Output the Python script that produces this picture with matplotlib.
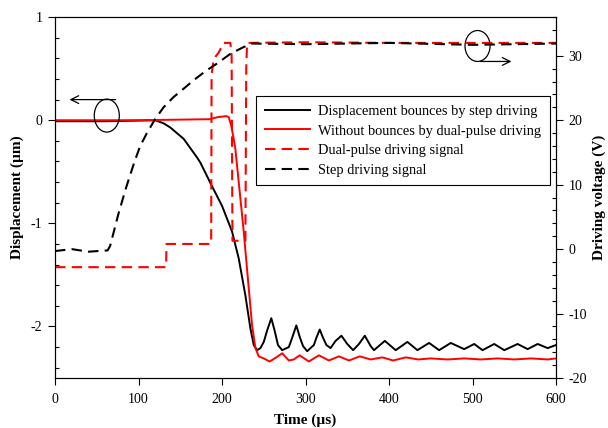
import numpy as np
import matplotlib
matplotlib.use('Agg')
import matplotlib.pyplot as plt
from matplotlib.patches import Ellipse
from matplotlib.ticker import MultipleLocator

plt.rcParams['font.family'] = ['Liberation Serif', 'DejaVu Serif']
plt.rcParams['axes.unicode_minus'] = False
plt.rcParams['font.size'] = 10

# displacement by step driving (left axis, um)
step_disp_t = [0, 60, 120, 130, 138, 154, 162, 170, 174, 188, 200, 212, 220, 228, 234, 238, 242,
               246, 250, 254, 259, 263, 267, 272, 280, 284, 289, 293, 297, 302, 310, 313, 317,
               321, 325, 330, 336, 343, 350, 357, 364, 371, 378, 382, 395, 408, 422, 434, 448,
               460, 474, 490, 502, 512, 526, 538, 554, 566, 578, 590, 600]
step_disp = [-0.01, -0.01, 0.0, -0.03, -0.07, -0.18, -0.27, -0.36, -0.41, -0.64, -0.83, -1.08,
             -1.34, -1.70, -2.02, -2.18, -2.23, -2.21, -2.15, -2.04, -1.92, -2.04, -2.18, -2.23,
             -2.20, -2.11, -1.99, -2.10, -2.19, -2.24, -2.18, -2.11, -2.03, -2.11, -2.18, -2.21,
             -2.14, -2.09, -2.17, -2.23, -2.17, -2.09, -2.19, -2.23, -2.14, -2.23, -2.15, -2.23,
             -2.16, -2.23, -2.16, -2.22, -2.17, -2.23, -2.17, -2.23, -2.17, -2.22, -2.17, -2.21,
             -2.18]

# displacement by dual-pulse driving (left axis, um)
dual_disp_t = [0, 100, 185, 195, 205, 208, 211, 214, 216, 220, 226, 232, 236, 240, 244, 250,
               257, 265, 272, 280, 286, 293, 304, 316, 328, 340, 352, 365, 378, 392, 405, 420,
               435, 450, 470, 490, 510, 530, 550, 570, 590, 600]
dual_disp = [0.0, 0.0, 0.01, 0.03, 0.04, 0.03, -0.05, -0.18, -0.28, -0.6, -1.08, -1.63, -1.99,
             -2.21, -2.29, -2.31, -2.34, -2.30, -2.26, -2.33, -2.32, -2.28, -2.34, -2.28, -2.33,
             -2.29, -2.33, -2.29, -2.32, -2.30, -2.33, -2.30, -2.32, -2.31, -2.32, -2.31, -2.32,
             -2.31, -2.32, -2.31, -2.32, -2.31]

# dual-pulse driving signal (right axis, V)
dual_sig_t = [0, 133, 133.5, 187, 187.5, 190, 196, 202, 210, 211.5, 212.5, 228, 229, 230, 300,
              400, 500, 600]
dual_sig = [-2.8, -2.8, 0.8, 0.8, 27, 29.5, 30.5, 32, 32, 30, 1.3, 1.3, 28, 32, 32.1, 32, 32, 32]

# step driving signal (right axis, V)
step_sig_t = [0, 20, 40, 63, 66, 70, 76, 85, 95, 102, 110, 120, 130, 142, 155, 166, 180, 194,
              210, 225, 236, 300, 400, 500, 600]
step_sig = [-0.3, 0, -0.4, -0.2, 0.5, 2.5, 5.5, 9.5, 13.5, 16, 18, 20.2, 22, 23.6, 25, 26.2,
            27.6, 28.8, 30.3, 31.3, 31.9, 31.8, 32, 31.7, 31.9]

fig = plt.figure(figsize=(6.08, 4.28), dpi=100)
ax = fig.add_axes([0.0905, 0.1168, 0.824, 0.8432])
ax2 = ax.twinx()

l1, = ax.plot(step_disp_t, step_disp, color='black', lw=1.4,
              label='Displacement bounces by step driving')
l2, = ax.plot(dual_disp_t, dual_disp, color='red', lw=1.4,
              label='Without bounces by dual-pulse driving')
dash = (0, (5, 3))
l3, = ax2.plot(dual_sig_t, dual_sig, color='red', lw=1.5, ls=dash,
               label='Dual-pulse driving signal')
l4, = ax2.plot(step_sig_t, step_sig, color='black', lw=1.5, ls=dash,
               label='Step driving signal')

ax.set_xlim(0, 600)
ax.set_ylim(-2.5, 1)
ax2.set_ylim(-20, 36)
ax.set_xticks([0, 100, 200, 300, 400, 500, 600])
ax.set_yticks([-2, -1, 0, 1])
ax.yaxis.set_minor_locator(MultipleLocator(0.2))
ax2.set_yticks([-20, -10, 0, 10, 20, 30])
ax2.yaxis.set_minor_locator(MultipleLocator(2))

for a in (ax, ax2):
    a.tick_params(which='major', direction='out', length=5, width=0.8, labelsize=10, pad=4)
    a.tick_params(which='minor', direction='in', length=3, width=0.8)
    for s in a.spines.values():
        s.set_linewidth(0.8)
ax.tick_params(axis='x', pad=6)

ax.set_xlabel('Time (µs)', fontsize=11, fontweight='bold', labelpad=5)
ax.set_ylabel('Displacement (µm)', fontsize=11, fontweight='bold', labelpad=5)
ax2.set_ylabel('Driving voltage (V)', fontsize=11, fontweight='bold', labelpad=4)

# ellipses with arrows marking which axis each group belongs to
ax.add_patch(Ellipse((62, 0.045), 30, 0.32, fill=False, ec='black', lw=0.9, zorder=5))
ax.annotate('', xy=(14, 0.2), xytext=(76, 0.2),
            arrowprops=dict(arrowstyle='->', color='black', lw=0.9, mutation_scale=14))
ax.add_patch(Ellipse((506, 0.72), 30, 0.30, fill=False, ec='black', lw=0.9, zorder=5))
ax.annotate('', xy=(550, 0.57), xytext=(506, 0.57),
            arrowprops=dict(arrowstyle='->', color='black', lw=0.9, mutation_scale=14))

leg = ax2.legend(handles=[l1, l2, l3, l4], loc='upper right', bbox_to_anchor=(0.988, 0.781),
                 borderaxespad=0, fontsize=10.4, frameon=True, fancybox=False, framealpha=1,
                 edgecolor='black', handlelength=3.1, borderpad=0.6, labelspacing=0.45,
                 handletextpad=0.6)
leg.get_frame().set_linewidth(0.8)

fig.savefig('out.png', dpi=100)
